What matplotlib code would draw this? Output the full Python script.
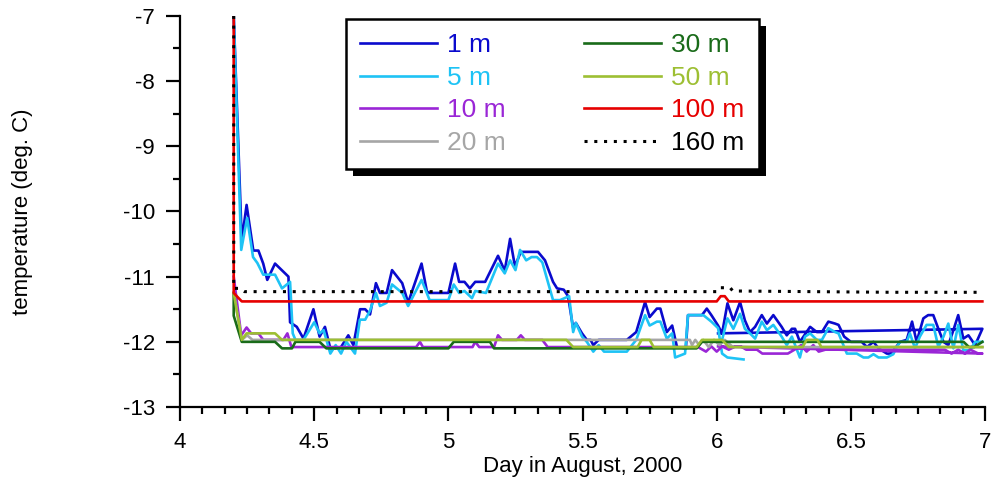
import numpy as np
import matplotlib
matplotlib.use('Agg')
import matplotlib.pyplot as plt
from matplotlib.patches import Rectangle
from matplotlib.ticker import MultipleLocator, FuncFormatter

plt.rcParams['font.family'] = ['Liberation Sans', 'DejaVu Sans']
plt.rcParams['axes.unicode_minus'] = False

nan = np.nan

# 1 m (the last point jumps back to ~6.0, as in the original record)
day_1m = [4.200, 4.230, 4.248, 4.273, 4.292, 4.310, 4.325, 4.354, 4.404, 4.410, 4.435, 4.460,
          4.497, 4.520, 4.540, 4.560, 4.578, 4.600, 4.627, 4.646, 4.671, 4.690, 4.708, 4.730,
          4.745, 4.770, 4.790, 4.828, 4.850, 4.900, 4.920, 4.930, 5.000, 5.025, 5.040, 5.060,
          5.080, 5.100, 5.137, 5.185, 5.210, 5.230, 5.248, 5.270, 5.334, 5.360, 5.390, 5.405,
          5.430, 5.446, 5.465, 5.475, 5.498, 5.516, 5.530, 5.540, 5.560, 5.665, 5.700, 5.733,
          5.750, 5.777, 5.790, 5.814, 5.834, 5.852, 5.885, 5.893, 5.945, 5.963, 5.980, 6.005,
          6.020, 6.040, 6.062, 6.087, 6.105, 6.124, 6.143, 6.168, 6.187, 6.211, 6.242, 6.261,
          6.280, 6.292, 6.310, 6.348, 6.373, 6.392, 6.416, 6.441, 6.454, 6.475, 6.500, 6.540,
          6.560, 6.584, 6.603, 6.634, 6.646, 6.665, 6.683, 6.708, 6.728, 6.745, 6.770, 6.788,
          6.807, 6.826, 6.845, 6.863, 6.882, 6.900, 6.919, 6.938, 6.963, 6.990, 6.005]
temp_1m = [-7.00, -10.45, -9.90, -10.60, -10.60, -10.80, -11.05, -10.80, -11.00, -11.70, -11.77, -11.95,
           -11.50, -11.92, -11.77, -12.10, -12.10, -12.08, -11.90, -12.05, -11.50, -11.50, -11.58, -11.10,
           -11.25, -11.25, -10.90, -11.10, -11.40, -10.80, -11.23, -11.25, -11.25, -10.80, -11.08, -11.08,
           -11.18, -11.08, -11.08, -10.68, -10.91, -10.42, -10.84, -10.62, -10.62, -10.75, -11.08, -11.18,
           -11.20, -11.30, -11.79, -11.71, -11.87, -11.97, -11.97, -12.05, -11.97, -11.97, -11.85, -11.39,
           -11.62, -11.49, -11.49, -11.85, -11.75, -12.08, -12.10, -11.59, -11.59, -11.49, -11.59, -11.75,
           -11.87, -11.41, -11.67, -11.39, -11.67, -11.85, -11.77, -11.59, -11.72, -11.59, -11.77, -11.90,
           -11.80, -11.80, -12.00, -11.77, -11.85, -11.85, -11.69, -11.72, -11.74, -11.92, -12.00, -12.00,
           -12.08, -12.00, -12.10, -12.18, -12.18, -12.10, -12.00, -11.97, -11.69, -12.00, -11.64, -11.59,
           -11.59, -11.80, -12.00, -12.05, -11.82, -11.59, -11.95, -11.90, -12.05, -11.80, -11.87]

# 5 m (two overlapping pieces around day 6)
day_5m = [4.200, 4.228, 4.250, 4.272, 4.288, 4.310, 4.354, 4.380, 4.410, 4.420, 4.430, 4.460,
          4.500, 4.520, 4.535, 4.560, 4.580, 4.600, 4.620, 4.652, 4.670, 4.690, 4.708, 4.730,
          4.745, 4.770, 4.790, 4.828, 4.850, 4.900, 4.930, 5.000, 5.020, 5.040, 5.060, 5.088,
          5.100, 5.140, 5.185, 5.210, 5.230, 5.250, 5.267, 5.290, 5.310, 5.330, 5.350, 5.390,
          5.416, 5.450, 5.465, 5.475, 5.498, 5.516, 5.540, 5.560, 5.580, 5.665, 5.700, 5.733,
          5.750, 5.777, 5.790, 5.814, 5.834, 5.845, 5.882, 5.893, 5.950, 5.980, 6.005, 6.020,
          6.040, 6.100, nan,
          6.020, 6.040, 6.062, 6.087, 6.105, 6.124, 6.143, 6.168, 6.187, 6.211, 6.242, 6.261,
          6.280, 6.310, 6.329, 6.348, 6.373, 6.392, 6.416, 6.441, 6.454, 6.485, 6.522, 6.547,
          6.565, 6.584, 6.603, 6.634, 6.658, 6.671, 6.683, 6.708, 6.720, 6.739, 6.757, 6.782,
          6.807, 6.826, 6.845, 6.863, 6.882, 6.900, 6.919, 6.944, 6.963, 6.990]
temp_5m = [-7.00, -10.59, -10.10, -10.70, -10.79, -10.97, -10.97, -11.18, -11.08, -11.87, -11.97, -11.97,
           -11.70, -11.87, -11.82, -12.18, -12.05, -12.18, -12.00, -12.18, -11.66, -11.66, -11.52, -11.25,
           -11.45, -11.40, -11.12, -11.25, -11.45, -11.05, -11.36, -11.36, -11.12, -11.25, -11.22, -11.33,
           -11.22, -11.25, -10.80, -10.95, -10.75, -10.90, -10.59, -10.75, -10.70, -10.70, -10.78, -11.36,
           -11.36, -11.30, -11.85, -11.71, -11.92, -12.00, -12.15, -12.05, -12.15, -12.15, -11.97, -11.59,
           -11.75, -11.69, -11.69, -11.95, -11.87, -12.24, -12.18, -11.59, -11.59, -11.69, -11.79, -12.18,
           -12.24, -12.27, nan,
           -11.97, -11.64, -11.80, -11.57, -11.80, -11.87, -11.95, -11.69, -11.82, -11.74, -11.92, -12.05,
           -11.92, -12.24, -11.92, -11.87, -11.97, -11.97, -11.79, -11.85, -11.87, -12.18, -12.18, -12.24,
           -12.24, -12.19, -12.24, -12.24, -12.19, -12.08, -12.00, -12.00, -11.87, -12.10, -11.92, -11.74,
           -11.74, -12.08, -11.92, -11.72, -12.10, -11.74, -12.13, -12.13, -12.00, -12.00]

# 10 m
day_10m = [4.200, 4.228, 4.248, 4.265, 4.292, 4.310, 4.385, 4.400, 4.415, 4.880, 4.894, 4.905,
           5.090, 5.100, 5.115, 5.170, 5.185, 5.200, 5.255, 5.270, 5.285, 5.350, 5.370, 5.930,
           5.960, 5.980, 6.000, 6.020, 6.045, 6.070, 6.090, 6.110, 6.150, 6.170, 6.265, 6.290,
           6.315, 6.335, 6.360, 6.380, 6.405, 6.850, 6.875, 6.900, 6.925, 6.945, 6.975, 6.990,
           6.005]
temp_10m = [-11.00, -11.90, -11.78, -11.87, -11.87, -11.97, -11.97, -11.87, -12.08, -12.08, -12.00, -12.08,
            -12.08, -12.00, -12.08, -12.08, -11.90, -11.97, -11.97, -11.90, -11.97, -11.97, -12.08, -12.08,
            -12.15, -12.07, -12.15, -12.07, -12.12, -12.07, -12.07, -12.12, -12.12, -12.18, -12.18, -12.12,
            -12.05, -12.15, -12.05, -12.15, -12.12, -12.12, -12.18, -12.12, -12.18, -12.12, -12.18, -12.18,
            -12.07]

# 20 m
day_20m = [4.200, 4.230, 4.250, 4.270, 5.900, 5.908, 5.920, 5.935, 5.950, 5.970, 5.990, 6.010,
           6.030, 6.060, 6.990]
temp_20m = [-11.25, -11.97, -11.90, -11.97, -11.97, -12.05, -11.97, -12.05, -11.97, -12.08, -11.97, -12.05,
            -11.97, -12.08, -12.08]

# 30 m
day_30m = [4.200, 4.200, 4.230, 4.354, 4.380, 4.417, 4.430, 4.520, 4.545, 5.000, 5.020, 5.155,
           5.170, 5.925, 5.945, 6.920, 6.940, 6.960, 6.990]
temp_30m = [-11.25, -11.60, -12.00, -12.00, -12.10, -12.10, -12.00, -12.00, -12.10, -12.10, -12.00, -12.00,
            -12.10, -12.10, -12.00, -12.00, -12.08, -12.08, -12.00]

# 50 m
day_50m = [4.200, 4.230, 4.248, 4.354, 4.380, 5.440, 5.465, 5.705, 5.720, 5.750, 5.765, 5.925,
           5.945, 6.020, 6.045, 6.320, 6.335, 6.375, 6.390, 6.990]
temp_50m = [-11.25, -11.97, -11.87, -11.87, -11.97, -11.97, -12.08, -12.08, -11.97, -11.97, -12.08, -12.08,
            -11.97, -11.97, -12.08, -12.08, -11.97, -11.97, -12.08, -12.08]

# 100 m
day_100m = [4.200, 4.200, 4.230, 6.000, 6.015, 6.030, 6.045, 6.990]
temp_100m = [-7.00, -11.25, -11.38, -11.38, -11.30, -11.30, -11.38, -11.38]

# 160 m
day_160m = [4.200, 4.200, 4.220, 4.240, 6.000, 6.010, 6.050, 6.060, 6.650, 6.990]
temp_160m = [-7.00, -11.18, -11.18, -11.23, -11.23, -11.17, -11.17, -11.22, -11.24, -11.24]

labels = ['1 m', '5 m', '10 m', '20 m', '30 m', '50 m', '100 m', '160 m']
colors = ['#0A0ACD', '#1EC3F5', '#9A26D6', '#A6A6A6', '#196B19', '#9DBF33', '#E60000', 'black']
days = [day_1m, day_5m, day_10m, day_20m, day_30m, day_50m, day_100m, day_160m]
temps = [temp_1m, temp_5m, temp_10m, temp_20m, temp_30m, temp_50m, temp_100m, temp_160m]

fig = plt.figure(figsize=(9.92, 4.8), dpi=100)
ax = fig.add_axes([0.1815, 0.152, 0.8115, 0.815])

for d, t, lab, c in zip(days, temps, labels, colors):
    if lab == '160 m':
        ax.plot(d, t, color=c, lw=2.2, ls=(0, (1, 2.2)), label=lab)
    else:
        ax.plot(d, t, color=c, lw=1.9, label=lab)

ax.set_xlim(4, 7)
ax.set_ylim(-13, -7)
for side in ['top', 'right']:
    ax.spines[side].set_visible(False)
for side in ['left', 'bottom']:
    ax.spines[side].set_linewidth(1.6)

ax.xaxis.set_major_locator(MultipleLocator(0.5))
ax.xaxis.set_minor_locator(MultipleLocator(1 / 12))
ax.yaxis.set_major_locator(MultipleLocator(1))
ax.yaxis.set_minor_locator(MultipleLocator(0.5))
fmt = FuncFormatter(lambda v, p: '%g' % v)
ax.xaxis.set_major_formatter(fmt)
ax.yaxis.set_major_formatter(fmt)
ax.tick_params(which='major', direction='out', length=10, width=1.6, labelsize=16, pad=8)
ax.tick_params(which='minor', direction='out', length=5, width=1.6)
ax.tick_params(axis='y', pad=8)

ax.set_xlabel('Day in August, 2000', fontsize=16, labelpad=2)
ax.set_ylabel('temperature (deg. C)', fontsize=16, labelpad=65)

leg = ax.legend(ncol=2, loc='upper left', bbox_to_anchor=(0.206, 0.992), borderaxespad=0,
                fontsize=19, frameon=True, fancybox=False, framealpha=1, edgecolor='black',
                handlelength=2.9, handletextpad=0.4, columnspacing=2.95, labelspacing=0.32,
                borderpad=0.55)
leg.get_frame().set_linewidth(1.8)
for txt, c in zip(leg.get_texts(), colors):
    txt.set_color(c)

# solid drop shadow behind the legend box
fig.canvas.draw()
bb = leg.get_window_extent().transformed(ax.transAxes.inverted())
off_x = 7 / (0.8115 * 992)
off_y = 7 / (0.815 * 480)
ax.add_patch(Rectangle((bb.x0 + off_x, bb.y0 - off_y), bb.width, bb.height, transform=ax.transAxes,
                       facecolor='black', edgecolor='none', zorder=4.9, clip_on=False))

fig.savefig('out.png', dpi=100)
